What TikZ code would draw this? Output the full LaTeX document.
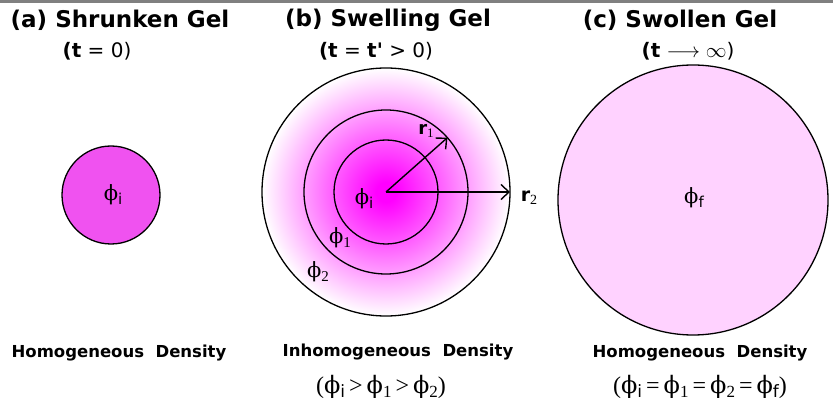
\documentclass[tikz,border=0pt]{standalone}
\usepackage{fontspec}
\setmainfont{Liberation Serif}
\setsansfont{DejaVu Sans}
\newfontfamily\phifont{DejaVu Serif}
\usetikzlibrary{arrows.meta,calc}
\definecolor{gelA}{RGB}{240,82,240}
\definecolor{gelC}{RGB}{255,210,255}
\definecolor{barGray}{RGB}{128,128,128}
\pgfdeclareradialshading{swellshade}{\pgfpoint{0bp}{0bp}}{color(0bp)=(magenta); color(2bp)=(magenta); color(12bp)=(magenta!58!white); color(25bp)=(white); color(50bp)=(white)}
\newcommand{\ph}[1]{{\phifont ϕ}\raisebox{-0.35ex}{\fontsize{15}{15}\selectfont #1}}
\newcommand{\phb}[1]{{\phifont ϕ}\raisebox{-0.35ex}{\fontsize{17}{17}\selectfont #1}}
\begin{document}
\begin{tikzpicture}[x=1pt,y=-1pt,line join=round,
  every node/.style={inner sep=0pt},
  title/.style={font=\sffamily\bfseries\fontsize{23}{27}\selectfont},
  when/.style={font=\sffamily\fontsize{20}{24}\selectfont},
  dens/.style={font=\sffamily\bfseries\fontsize{16.5}{19}\selectfont},
  rel/.style={font=\fontsize{24}{28}\selectfont},
  lab/.style={font=\fontsize{21}{24}\selectfont},
  rim/.style={draw=black,line width=1.3pt},
  radius/.style={line width=1.4pt,-{Straight Barb[length=8pt,width=15pt]}}]
\useasboundingbox (0,0) rectangle (833,414);
% top bar
\fill[barGray] (0,0) rectangle (833,3);
% centres of the three gels
\coordinate (ca) at (111,195);
\coordinate (cb) at (386,192);
\coordinate (cc) at (693,200);
% (a) shrunken gel
\node[title] (titleA) at (120,20) {(a) Shrunken Gel};
\node[when] (timeA) at (97,51) {\textbf{(t} = 0)};
\fill[gelA,rim] (ca) circle (49);
\node[lab] (phiA) at ($(ca)+(2,0)$) {\ph{\sffamily i}};
\node[dens] (densA) at (119,353) {Homogeneous\ \ Density};
% (b) swelling gel, density falls off outward
\node[title] (titleB) at (388,20) {(b) Swelling Gel};
\node[when] (timeB) at (376,51) {\textbf{(t} = \textbf{t\textquotesingle} > 0)};
\shade[shading=swellshade] (cb) circle (124);
\draw[rim] (cb) circle (124);
\draw[rim] (cb) circle (82);
\draw[rim] (cb) circle (52);
\coordinate (rone) at ($(cb)+(-41.5:82)$);
\coordinate (rtwo) at ($(cb)+(124,0)$);
\draw[radius] (cb) -- (rone);
\draw[radius] (cb) -- (rtwo);
\node[font=\sffamily\bfseries\fontsize{18}{20}\selectfont] (rA) at (426,131) {r\raisebox{-0.3ex}{\rmfamily\mdseries\fontsize{13}{13}\selectfont 1}};
\node[font=\sffamily\bfseries\fontsize{19}{20}\selectfont] (rB) at (529,198) {r\raisebox{-0.3ex}{\rmfamily\mdseries\fontsize{14}{14}\selectfont 2}};
\node[lab] (phiB) at (364,199) {\ph{\sffamily i}};
\node[lab] (phiB1) at (340,238) {\ph{1}};
\node[lab] (phiB2) at (318,272) {\ph{2}};
\node[dens] (densB) at (398,352) {Inhomogeneous\ \ Density};
\node[rel] (relB) at (381,387) {(\phb{\sffamily i}\,>\,\phb{1}\,>\,\phb{2})};
% (c) swollen gel
\node[title] (titleC) at (680,20) {(c) Swollen Gel};
\node[when] (timeC) at (688,51) {\textbf{(t} $\longrightarrow\infty$)};
\fill[gelC,rim] (cc) circle (135);
\node[lab] (phiC) at ($(cc)+(1,-2)$) {\ph{\sffamily f}};
\node[dens] (densC) at (700,353) {Homogeneous\ \ Density};
\node[rel] (relC) at (700,387) {(\phb{\sffamily i}\,=\,\phb{1}\,=\,\phb{2}\,=\,\phb{\sffamily f})};
\end{tikzpicture}
\end{document}
